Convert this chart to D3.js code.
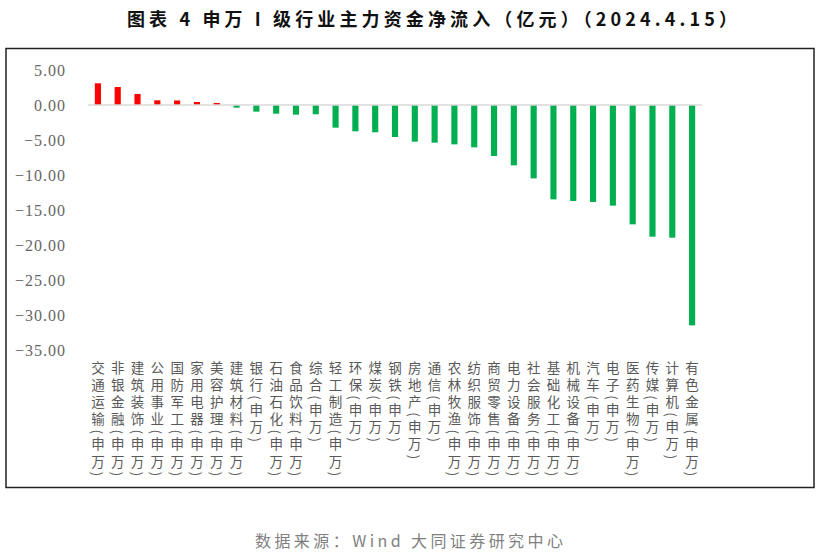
<!DOCTYPE html>
<html>
<head>
<meta charset="utf-8">
<script src="https://cdn.jsdelivr.net/npm/d3@7"></script>
<style>
html,body{margin:0;padding:0;background:#fff;}
svg{display:block;}
.vlab{writing-mode:vertical-rl;text-orientation:mixed;}
</style>
</head>
<body>
<svg id="chart" width="821" height="556"></svg>
<script>
// ---- data ----
const categories = ["交通运输","非银金融","建筑装饰","公用事业","国防军工","家用电器","美容护理","建筑材料","银行","石油石化","食品饮料","综合","轻工制造","环保","煤炭","钢铁","房地产","通信","农林牧渔","纺织服饰","商贸零售","电力设备","社会服务","基础化工","机械设备","汽车","电子","医药生物","传媒","计算机","有色金属"];
const suffix = "(申万)";
const values = [3.10,2.57,1.57,0.67,0.65,0.43,0.29,-0.38,-0.95,-1.24,-1.38,-1.33,-3.24,-3.76,-3.90,-4.57,-5.24,-5.38,-5.62,-6.05,-7.29,-8.62,-10.48,-13.48,-13.71,-13.86,-14.38,-17.05,-18.81,-18.95,-31.48];
const yTicks = [5,0,-5,-10,-15,-20,-25,-30,-35];
const titleText = "图表 4  申万 I 级行业主力资金净流入（亿元）（2024.4.15）";
const sourceText = "数据来源：Wind 大同证券研究中心";

// ---- layout ----
const svg = d3.select("#chart");

svg.append("rect").attr("x",6).attr("y",48.5).attr("width",808).attr("height",439)
  .attr("fill","none").attr("stroke","#222").attr("stroke-width",1.5);

svg.append("text").attr("x",432).attr("y",18).attr("text-anchor","middle")
  .attr("dominant-baseline","central")
  .attr("font-family","'Noto Sans CJK SC', sans-serif").attr("font-weight",700)
  .attr("font-size",18).attr("fill","#111")
  .attr("textLength",610).attr("lengthAdjust","spacing")
  .text(titleText);

svg.append("text").attr("x",409).attr("y",540).attr("text-anchor","middle")
  .attr("dominant-baseline","central")
  .attr("font-family","'Noto Sans CJK SC', sans-serif")
  .attr("font-size",16).attr("fill","#7f7f7f")
  .attr("textLength",308).attr("lengthAdjust","spacing")
  .text(sourceText);

const x = d3.scaleBand().domain(categories).range([88, 702]).paddingInner(0.69).paddingOuter(0.345);
const y = d3.scaleLinear().domain([-35, 5]).range([350, 70]);

// y axis labels
const yAxis = d3.axisLeft(y).tickValues(yTicks).tickFormat(d3.format(".2f")).tickSize(0).tickPadding(0);
const yg = svg.append("g").attr("transform","translate(66,0)").call(yAxis);
yg.select(".domain").remove();
yg.selectAll("text").attr("font-family","'Liberation Serif', serif").attr("font-size",16)
  .attr("letter-spacing",1).attr("fill","#666");

// bars
svg.append("g").selectAll("rect").data(values).join("rect")
  .attr("x",(d,i)=>x(categories[i]))
  .attr("width",x.bandwidth())
  .attr("y",d=>y(Math.max(0,d)))
  .attr("height",d=>Math.abs(y(d)-y(0)))
  .attr("fill",d=>d>=0?"#FF0000":"#00B050");

// zero line
svg.append("line").attr("x1",88).attr("x2",702).attr("y1",y(0)).attr("y2",y(0))
  .attr("stroke","#D9D9D9").attr("stroke-width",1.5);

// vertical category labels
svg.append("g").selectAll("text").data(categories).join("text")
  .attr("class","vlab")
  .attr("x",d=>x(d)+x.bandwidth()/2)
  .attr("y",361)
  .attr("font-family","'Noto Sans CJK SC', sans-serif")
  .attr("font-size",13.5).attr("letter-spacing",3.6).attr("fill","#595959")
  .text(d=>d+suffix);
</script>
</body>
</html>
